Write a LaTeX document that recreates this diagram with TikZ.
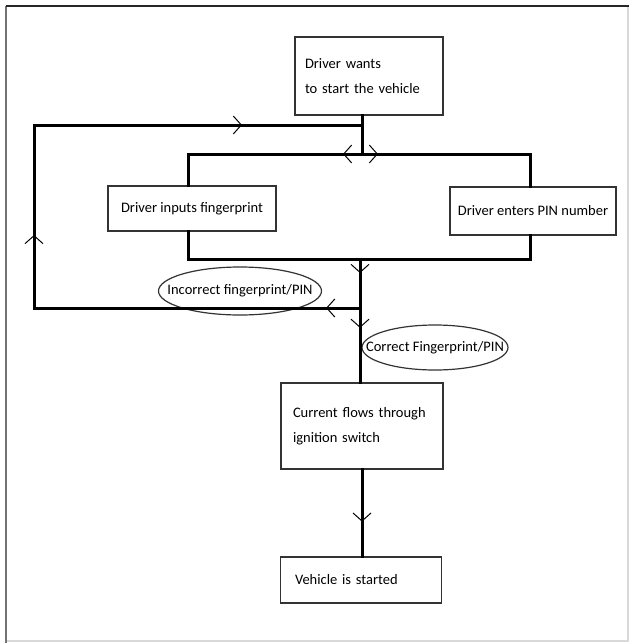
\documentclass[tikz,border=0pt]{standalone}
\usepackage{fontspec}
\setmainfont{Carlito}
\usetikzlibrary{arrows.meta,decorations.markings}

\tikzset{
    flowbox/.style={draw=black!80, line width=0.7pt, inner ysep=0pt, font=\fontsize{7.25}{12.5}\selectfont},
    labeltext/.style={inner sep=0pt, font=\fontsize{7.25}{12.5}\selectfont},
    oval/.style={draw=black!80, line width=0.6pt},
    conn/.style={line width=1.5pt, line cap=rect},
    midarrow/.style={postaction={decorate}, decoration={markings,
        mark=at position #1 with {\arrow{Straight Barb[length=4pt, width=9pt, line width=0.5pt]}}}}
}

\begin{document}
\begin{tikzpicture}[x=0.5pt, y=-0.5pt]
    \useasboundingbox (0,0) rectangle (629,643);
    % page frame
    \draw[black!15, line width=0.6pt] (628,6) -- (628,641) -- (6,641);
    \draw[black!55, line width=1pt] (6,643) -- (6,6);
    \draw[black!85, line width=1pt] (6,6) -- (629,6);

    % boxes
    \node[flowbox, minimum width=74pt, minimum height=39pt, text width=64pt, inner xsep=5pt, align=left] (start) at (369,76) {Driver wants\\to start the vehicle};
    \node[flowbox, minimum width=84pt, minimum height=22.5pt, inner xsep=0pt] (finger) at (192,208.5) {Driver inputs fingerprint};
    \node[flowbox, minimum width=83pt, minimum height=24pt, inner xsep=0pt] (pin) at (533,211) {Driver enters PIN number};
    \node[flowbox, minimum width=81pt, minimum height=43pt, text width=69pt, inner xsep=6pt, align=left] (current) at (362,426) {Current flows through\\ignition switch};
    \node[flowbox, minimum width=80.5pt, minimum height=23pt, text width=66pt, inner xsep=7.25pt, align=left] (started) at (361,580) {Vehicle is started};

    % junctions
    \coordinate (loopTL) at (34,125);
    \coordinate (splitT) at (362,125);
    \coordinate (splitB) at (362,154);
    \coordinate (busTL) at (188,154);
    \coordinate (busTR) at (530,154);
    \coordinate (busBL) at (188,259);
    \coordinate (busBR) at (530,259);
    \coordinate (joinB) at (360,259);
    \coordinate (loopJ) at (360,308);
    \coordinate (loopBL) at (34,308);

    % condition labels
    \node[labeltext] (wrong) at (240,291) {Incorrect fingerprint/PIN};
    \draw[oval] (wrong.center) ellipse [x radius=40.75pt, y radius=12pt];
    \node[labeltext] (right) at (435,347.5) {Correct Fingerprint/PIN};
    \draw[oval] (right.center) ellipse [x radius=36.5pt, y radius=11.25pt];

    % branching to both inputs
    \draw[conn] (splitT |- start.south) -- (splitB);
    \draw[conn, midarrow=0.109] (splitB) -- (busTL);
    \draw[conn, midarrow=0.095] (splitB) -- (busTR);
    \draw[conn] (busTL) -- (busTL |- finger.north);
    \draw[conn] (busTR) -- (busTR |- pin.north);

    % joining the inputs
    \draw[conn] (busBL |- finger.south) -- (busBL) -- (busBR) -- (busBR |- pin.south);
    \draw[conn, midarrow=0.286] (joinB) -- (loopJ);
    \draw[conn, midarrow=0.267] (loopJ) -- (loopJ |- current.north);
    \draw[conn, midarrow=0.6] (current.south) -- (current.south |- started.north);

    % retry loop
    \draw[conn, midarrow=0.104] (loopJ) -- (loopBL);
    \draw[conn, midarrow=0.399] (loopBL) -- (loopTL);
    \draw[conn, midarrow=0.634] (loopTL) -- (splitT);
\end{tikzpicture}
\end{document}
